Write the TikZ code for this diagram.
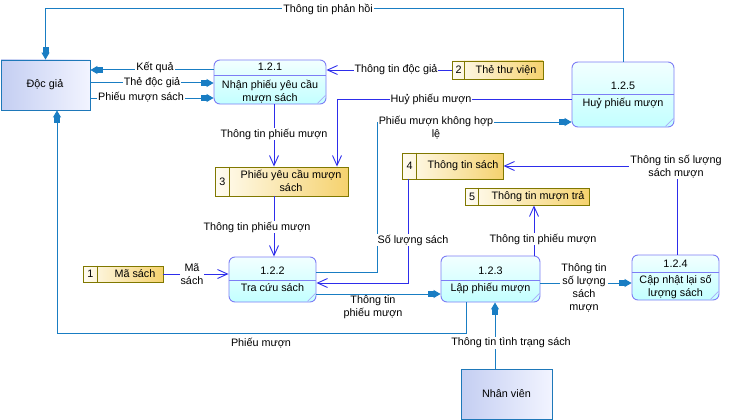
\documentclass[tikz,border=0pt]{standalone}
\usepackage{fontspec}
\setmainfont{Liberation Sans}
\usetikzlibrary{arrows.meta,calc}
\definecolor{flowblue}{RGB}{45,45,235}
\definecolor{flowteal}{RGB}{25,125,195}
\definecolor{procborder}{RGB}{125,125,245}
\definecolor{proctop}{RGB}{242,255,255}
\definecolor{procbot}{RGB}{195,255,255}
\definecolor{storeborder}{RGB}{128,120,0}
\definecolor{storeleft}{RGB}{255,252,242}
\definecolor{storeright}{RGB}{245,210,110}
\definecolor{entborder}{RGB}{30,120,185}
\definecolor{entleft}{RGB}{196,206,242}
\definecolor{entright}{RGB}{242,244,255}
\definecolor{markcol}{RGB}{170,170,250}
\begin{document}
\begin{tikzpicture}[x=1pt,y=-1pt,
  every node/.style={font=\fontsize{10.8}{13}\selectfont, inner sep=0pt},
  procbox/.style={draw=procborder, line width=0.9pt, rounded corners=6pt, top color=proctop, bottom color=procbot},
  storebox/.style={draw=storeborder, line width=0.9pt, left color=storeleft, right color=storeright},
  entbox/.style={draw=entborder, line width=0.9pt, left color=entleft, right color=entright},
  procline/.style={draw=procborder, line width=0.9pt},
  procmark/.style={draw=markcol, line width=0.7pt},
  storeline/.style={draw=storeborder, line width=0.9pt},
  tealflow/.style={draw=flowteal, line width=1pt, -{Rectangle[length=5.5pt,width=6pt,fill=flowteal]Triangle[length=7pt,width=8pt,fill=flowteal]}},
  blueflow/.style={draw=flowblue, line width=0.9pt, -{Straight Barb[length=10pt,width=9pt]}},
  lbl/.style={fill=white, inner sep=1pt, align=center}
]
\useasboundingbox (0,0) rectangle (731,420);

% ---------- external entities ----------
\node[entbox, minimum width=89, minimum height=50] (dg) at (45.5,85) {};
\node (dgt) at (45,85) {Độc giả};
\node[entbox, minimum width=91, minimum height=50] (nv) at (506.5,394) {};
\node (nvt) at (506.5,394) {Nhân viên};

% ---------- processes ----------
\node[procbox, minimum width=112, minimum height=44] (p121) at (270,82) {};
\draw[procline] (p121.west |- 0,75) -- (p121.east |- 0,75);
\draw[procmark] ($(p121.south east)+(-9,-1)$) -- ($(p121.south east)+(-1,-9)$);
\node (p121n) at (270,67) {1.2.1};
\node[align=center] (p121t) at (270,91.5) {Nhận phiếu yêu cầu\\mượn sách};

\node[procbox, minimum width=102, minimum height=65] (p125) at (623,94.5) {};
\draw[procline] (p125.west |- 0,94) -- (p125.east |- 0,94);
\draw[procmark] ($(p125.south east)+(-9,-1)$) -- ($(p125.south east)+(-1,-9)$);
\node (p125n) at (623,86) {1.2.5};
\node (p125t) at (623,103) {Huỷ phiếu mượn};

\node[procbox, minimum width=87, minimum height=45] (p122) at (272.5,279.5) {};
\draw[procline] (p122.west |- 0,280) -- (p122.east |- 0,280);
\draw[procmark] ($(p122.south east)+(-9,-1)$) -- ($(p122.south east)+(-1,-9)$);
\node (p122n) at (272.5,270.5) {1.2.2};
\node (p122t) at (272.5,287.5) {Tra cứu sách};

\node[procbox, minimum width=99, minimum height=46] (p123) at (490.5,279) {};
\draw[procline] (p123.west |- 0,280) -- (p123.east |- 0,280);
\draw[procmark] ($(p123.south east)+(-9,-1)$) -- ($(p123.south east)+(-1,-9)$);
\node (p123n) at (490.5,271) {1.2.3};
\node (p123t) at (490.5,288) {Lập phiếu mượn};

\node[procbox, minimum width=87, minimum height=45] (p124) at (675.5,277.5) {};
\draw[procline] (p124.west |- 0,272) -- (p124.east |- 0,272);
\draw[procmark] ($(p124.south east)+(-9,-1)$) -- ($(p124.south east)+(-1,-9)$);
\node (p124n) at (675.5,263.5) {1.2.4};
\node[align=center] (p124t) at (675.5,287) {Cập nhật lại số\\lượng sách};

% ---------- data stores ----------
\node[storebox, minimum width=91, minimum height=18] (s2) at (497.5,70) {};
\draw[storeline] ($(s2.north west)+(13,0)$) -- ($(s2.south west)+(13,0)$);
\node (s2n) at (458.5,70) {2};
\node (s2t) at (506,70) {Thẻ thư viện};

\node[storebox, minimum width=133, minimum height=29] (s3) at (281.5,181.5) {};
\draw[storeline] ($(s3.north west)+(15,0)$) -- ($(s3.south west)+(15,0)$);
\node (s3n) at (222.5,181.5) {3};
\node[align=center] (s3t) at (291,180.5) {Phiếu yêu cầu mượn\\sách};

\node[storebox, minimum width=80, minimum height=16] (s1) at (123,274) {};
\draw[storeline] ($(s1.north west)+(15,0)$) -- ($(s1.south west)+(15,0)$);
\node (s1n) at (90.5,274) {1};
\node (s1t) at (135,274) {Mã sách};

\node[storebox, minimum width=101, minimum height=26] (s4) at (452.5,166) {};
\draw[storeline] ($(s4.north west)+(15,0)$) -- ($(s4.south west)+(15,0)$);
\node (s4n) at (409.5,166) {4};
\node (s4t) at (463,166) {Thông tin sách};

\node[storebox, minimum width=124, minimum height=17] (s5) at (527,196.5) {};
\draw[storeline] ($(s5.north west)+(14,0)$) -- ($(s5.south west)+(14,0)$);
\node (s5n) at (472,196.5) {5};
\node (s5t) at (538,196.5) {Thông tin mượn trả};

% ---------- flows ----------
\draw[tealflow] (p125.north) |- (dg.north |- 0,9) -- (dg.north);
\draw[tealflow] (p121.west |- 0,70) -- (dg.east |- 0,70);
\draw[tealflow] (dg.east |- 0,83) -- (p121.west |- 0,83);
\draw[tealflow] (dg.east |- 0,98) -- (p121.west |- 0,98);
\draw[blueflow] (s2.west) -- (p121.east |- s2.west);
\draw[blueflow] (p121.south -| 274,0) -- (s3.north -| 274,0);
\draw[blueflow] (p125.west |- 0,99) -| (s3.north -| 337,0);
\draw[tealflow] (p122.east |- 0,272) -| (377,122) -- (p125.west |- 0,122);
\draw[blueflow] (s4.south -| 408,0) |- (p122.east |- 0,283);
\draw[blueflow] (s3.south -| 274,0) -- (p122.north -| 274,0);
\draw[blueflow] (s1.east) -- (p122.west |- s1.east);
\draw[tealflow] (p122.east |- 0,294) -- (p123.west |- 0,294);
\draw[tealflow] (p123.south -| 466,0) |- (57,333) -- (dg.south -| 57,0);
\draw[tealflow] (nv.north -| 495,0) -- (p123.south -| 495,0);
\draw[blueflow] (p123.north -| 534,0) -- (s5.south -| 534,0);
\draw[tealflow] (p123.east |- 0,283) -- (p124.west |- 0,283);
\draw[blueflow] (p124.north -| 677,0) |- (s4.east);

% ---------- flow labels ----------
\node[lbl] (l1) at (328,9) {Thông tin phản hồi};
\node[lbl] (l2) at (155,67) {Kết quả};
\node[lbl] (l3) at (152,83) {Thẻ độc giả};
\node[lbl] (l4) at (141,97.5) {Phiếu mượn sách};
\node[lbl] (l5) at (396,70) {Thông tin độc giả};
\node[lbl] (l6) at (274,134) {Thông tin phiếu mượn};
\node[lbl] (l7) at (431,99) {Huỷ phiếu mượn};
\node[lbl] (l8) at (436,127.5) {Phiếu mượn không hợp\\lệ};
\node[lbl] (l9) at (413,240) {Số lượng sách};
\node[lbl] (l10) at (257,227) {Thông tin phiếu mượn};
\node[lbl] (l11) at (192,274) {Mã\\sách};
\node[lbl] (l12) at (373,307.5) {Thông tin\\phiếu mượn};
\node[lbl] (l13) at (261,343) {Phiếu mượn};
\node[lbl] (l14) at (511,343) {Thông tin tình trạng sách};
\node[lbl] (l15) at (543,239) {Thông tin phiếu mượn};
\node[lbl] (l16) at (584,288) {Thông tin\\số lượng\\sách\\mượn};
\node[lbl] (l17) at (676,166.5) {Thông tin số lượng\\sách mượn};
\end{tikzpicture}
\end{document}
